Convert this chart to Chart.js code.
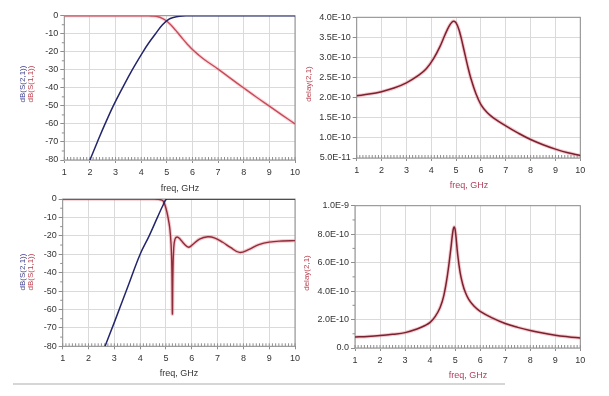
<!DOCTYPE html>
<html><head><meta charset="utf-8">
<script src="https://cdn.jsdelivr.net/npm/chart.js@4.4.0/dist/chart.umd.min.js"></script>
<style>
html,body{margin:0;padding:0;background:#fff;}
#wrap{position:relative;width:609px;height:396px;overflow:hidden;background:#fff;}
canvas{position:absolute;left:0;top:0;}
#rule{position:absolute;left:13px;top:383px;width:492px;height:2px;background:#d6d6d6;}
</style></head><body>
<div id="wrap">
<canvas id="c1" width="609" height="396"></canvas>
<canvas id="c2" width="609" height="396"></canvas>
<canvas id="c3" width="609" height="396"></canvas>
<canvas id="c4" width="609" height="396"></canvas>
<div id="rule"></div>
</div>
<script>
// ---------- data ----------
const freqTicks = [1,2,3,4,5,6,7,8,9,10];
const dbTicks = [0,-10,-20,-30,-40,-50,-60,-70,-80];
const delayTicksTop = [5e-11,1e-10,1.5e-10,2e-10,2.5e-10,3e-10,3.5e-10,4e-10];
const delayTicksBot = [0,2e-10,4e-10,6e-10,8e-10,1e-9];

// top-left: S(2,1) and S(1,1) in dB
const s21TopF  = [2.0, 2.29, 2.59, 2.91, 3.27, 3.65, 4.07, 4.3, 4.56, 4.83, 5.07, 5.25, 5.5, 5.8, 6.2, 7, 8, 9, 10];
const s21TopDb = [-80, -70, -60, -50, -40, -30, -20, -15, -10, -5, -2, -1, -0.3, -0.05, 0, 0, 0, 0, 0];
const s11TopF  = [1, 2, 3, 4, 4.3, 4.5, 4.65, 4.8, 4.95, 5.1, 5.25, 5.4, 5.6, 5.8, 6.0, 6.25, 6.5, 7, 7.5, 8, 8.5, 9, 9.5, 10];
const s11TopDb = [0, 0, 0, 0, -0.05, -0.25, -0.6, -1.3, -2.5, -4.3, -6.5, -9, -12.5, -15.8, -18.8, -21.9, -24.7, -29.6, -34.9, -40.1, -45.2, -50.1, -55.1, -60];

// top-right: group delay (s)
const delayTopF = [1, 1.5, 2, 2.5, 3, 3.5, 3.8, 4.1, 4.35, 4.55, 4.72, 4.85, 4.92, 5.0, 5.1, 5.2, 5.32, 5.45, 5.6, 5.8, 6.0, 6.25, 6.5, 7, 7.5, 8, 8.5, 9, 9.5, 10];
const delayTopS = [2.05e-10, 2.09e-10, 2.15e-10, 2.24e-10, 2.37e-10, 2.56e-10, 2.72e-10, 2.98e-10, 3.27e-10, 3.56e-10, 3.78e-10, 3.89e-10, 3.9e-10, 3.86e-10, 3.72e-10, 3.5e-10, 3.18e-10, 2.83e-10, 2.47e-10, 2.1e-10, 1.83e-10, 1.63e-10, 1.5e-10, 1.3e-10, 1.12e-10, 0.96e-10, 0.83e-10, 0.72e-10, 0.63e-10, 0.56e-10];

// bottom-left: S(2,1) and S(1,1) in dB
const s21BotF  = [2.64, 3.0, 3.5, 4.0, 4.35, 4.67, 4.9, 5.03, 5.3, 6, 7, 8, 9, 10];
const s21BotDb = [-80, -67, -48.5, -30, -20, -10, -3, 0, 0, 0, 0, 0, 0, 0];
const s11BotF  = [1, 2, 3, 4, 4.5, 4.7, 4.8, 4.9, 5.0, 5.08, 5.15, 5.2, 5.23, 5.25, 5.27, 5.3, 5.35, 5.43, 5.55, 5.7, 5.88, 6.05, 6.3, 6.62, 6.9, 7.2, 7.5, 7.85, 8.2, 8.6, 9.0, 9.5, 10];
const s11BotDb = [0, 0, 0, 0, 0, -0.1, -0.4, -1.3, -5, -10, -16, -25, -38, -62.5, -40, -27, -21.8, -20.6, -21.8, -24.3, -26.2, -24.6, -21.8, -20.5, -21.2, -23.5, -26.3, -29, -27.5, -24.8, -23.4, -22.8, -22.6];

// bottom-right: group delay (s)
const delayBotF = [1, 1.5, 2, 2.5, 3, 3.5, 3.8, 4.0, 4.2, 4.4, 4.55, 4.7, 4.83, 4.91, 4.96, 5.01, 5.1, 5.2, 5.3, 5.4, 5.55, 5.75, 6.0, 6.5, 7, 7.5, 8, 8.5, 9, 9.5, 10];
const delayBotS = [0.77e-10, 0.81e-10, 0.87e-10, 0.96e-10, 1.08e-10, 1.35e-10, 1.58e-10, 1.8e-10, 2.2e-10, 2.85e-10, 3.7e-10, 5.2e-10, 7.0e-10, 8.2e-10, 8.5e-10, 8.2e-10, 6.6e-10, 5.3e-10, 4.5e-10, 3.95e-10, 3.4e-10, 2.95e-10, 2.58e-10, 2.1e-10, 1.72e-10, 1.45e-10, 1.23e-10, 1.05e-10, 0.9e-10, 0.79e-10, 0.7e-10];

// ---------- helpers ----------
const FONT = '"Liberation Sans", Arial, sans-serif';
const W = 609, H = 396, YW = 50, XH = 20;
const pts = (xs, ys) => xs.map((x, i) => ({x: x, y: ys[i]}));
const fmtE = v => Math.abs(v) < 1e-20 ? '0.0' : v.toExponential(1).toUpperCase();
const fmtDb = v => String(v);

function line(xs, ys, color, width, order) {
  return {data: pts(xs, ys), borderColor: color, borderWidth: width, pointRadius: 0,
    fill: false, tension: 0.4, order: order};
}

function makePlugin(yMinor, texts) {
  return {
    id: 'frame',
    beforeDatasetsDraw(chart) {
      const ctx = chart.ctx, a = chart.chartArea, xs = chart.scales.x, ys = chart.scales.y;
      ctx.save();
      ctx.strokeStyle = '#8e8e8e'; ctx.lineWidth = 1;
      ctx.strokeRect(a.left, a.top, a.right - a.left, a.bottom - a.top);
      ctx.beginPath();
      for (let f = 1; f <= 10.0001; f += 0.125) {
        const px = xs.getPixelForValue(f);
        ctx.moveTo(px, a.bottom); ctx.lineTo(px, a.bottom - 3);
      }
      yMinor.forEach(v => { const py = ys.getPixelForValue(v); ctx.moveTo(a.left, py); ctx.lineTo(a.left - 2.5, py); });
      ctx.stroke();
      ctx.restore();
    },
    afterDraw(chart) {
      const ctx = chart.ctx;
      texts.forEach(t => {
        ctx.save();
        ctx.font = (t.size || 9) + 'px ' + FONT;
        ctx.fillStyle = t.c; ctx.textAlign = 'center'; ctx.textBaseline = 'middle';
        ctx.translate(t.x, t.y);
        if (t.rot) ctx.rotate(-Math.PI / 2);
        ctx.fillText(t.t, 0, 0);
        ctx.restore();
      });
    }
  };
}

function build(id, box, yTicks, yMin, yMax, yFmt, yMinor, datasets, texts) {
  return new Chart(document.getElementById(id), {
    type: 'line',
    data: {datasets: datasets},
    plugins: [makePlugin(yMinor, texts)],
    options: {
      responsive: false, animation: false, devicePixelRatio: 1, events: [],
      layout: {padding: {left: box.l - YW, top: box.t, right: W - box.r, bottom: H - box.b - XH}},
      plugins: {legend: {display: false}, tooltip: {enabled: false}},
      scales: {
        x: {type: 'linear', min: 1, max: 10,
          afterBuildTicks: s => { s.ticks = freqTicks.map(v => ({value: v})); },
          afterFit: s => { s.height = XH; },
          ticks: {font: {size: 9, family: FONT}, color: '#333', padding: 4, maxRotation: 0, autoSkip: false},
          grid: {color: '#dadada', lineWidth: 1, tickLength: 3, tickColor: '#8e8e8e'},
          border: {display: false}},
        y: {type: 'linear', min: yMin, max: yMax,
          afterBuildTicks: s => { s.ticks = yTicks.map(v => ({value: v})); },
          afterFit: s => { s.width = YW; },
          ticks: {font: {size: 9, family: FONT}, color: '#333', padding: 2, callback: v => yFmt(v)},
          grid: {color: '#dadada', lineWidth: 1, tickLength: 4, tickColor: '#8e8e8e'},
          border: {display: false}}
      }
    }
  });
}

const NAVY = '#23266b', RED = '#c64c5a', MAROON = '#7a2230', GLOW = 'rgba(236,130,142,0.45)';
const XT = '#333', XTR = '#b0405a';

// top-left
build('c1', {l: 64.3, t: 15.7, r: 295, b: 160}, dbTicks, -80, 0, fmtDb, [-5,-15,-25,-35,-45,-55,-65,-75], [
  line(s11TopF, s11TopDb, 'rgba(240,150,160,0.35)', 3.5, 3),
  line(s11TopF, s11TopDb, RED, 1.4, 1),
  line(s21TopF, s21TopDb, NAVY, 1.5, 0)
], [
  {t: 'dB(S(2,1))', x: 23, y: 84, c: '#3d3f8c', rot: true, size: 8},
  {t: 'dB(S(1,1))', x: 31, y: 84, c: '#b8404e', rot: true, size: 8},
  {t: 'freq, GHz', x: 180, y: 189, c: XT}
]);

// top-right
build('c2', {l: 356.7, t: 17.3, r: 580.3, b: 158}, delayTicksTop, 5e-11, 4e-10, fmtE, [], [
  line(delayTopF, delayTopS, GLOW, 3.5, 2),
  line(delayTopF, delayTopS, MAROON, 1.5, 0)
], [
  {t: 'delay(2,1)', x: 309, y: 84, c: '#b8404e', rot: true, size: 8},
  {t: 'freq, GHz', x: 469, y: 186, c: XTR}
]);

// bottom-left
build('c3', {l: 62.7, t: 199, r: 295, b: 346.3}, dbTicks, -80, 0, fmtDb, [-5,-15,-25,-35,-45,-55,-65,-75], [
  line(s11BotF, s11BotDb, GLOW, 3.5, 3),
  line(s11BotF, s11BotDb, '#8e2d3a', 1.4, 1),
  line(s21BotF, s21BotDb, NAVY, 1.5, 0)
], [
  {t: 'dB(S(2,1))', x: 23, y: 272, c: '#3d3f8c', rot: true, size: 8},
  {t: 'dB(S(1,1))', x: 31, y: 272, c: '#b8404e', rot: true, size: 8},
  {t: 'freq, GHz', x: 179, y: 374, c: XT}
]);

// bottom-right
build('c4', {l: 355, t: 205.7, r: 580.3, b: 348}, delayTicksBot, 0, 1e-9, fmtE, [1e-10,3e-10,5e-10,7e-10,9e-10], [
  line(delayBotF, delayBotS, GLOW, 3.5, 2),
  line(delayBotF, delayBotS, MAROON, 1.5, 0)
], [
  {t: 'delay(2,1)', x: 307, y: 273, c: '#b8404e', rot: true, size: 8},
  {t: 'freq, GHz', x: 468, y: 376, c: XTR}
]);
</script>
</body></html>
